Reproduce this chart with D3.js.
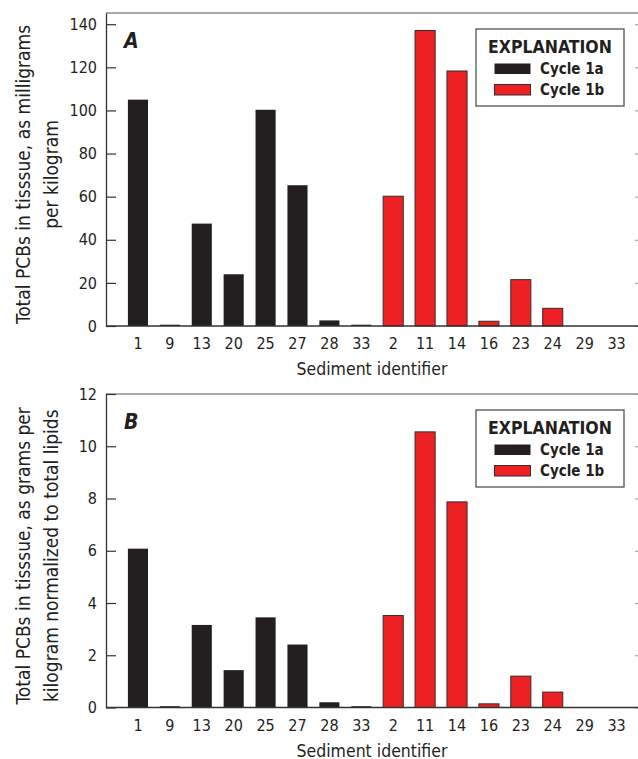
<!DOCTYPE html>
<html>
<head>
<meta charset="utf-8">
<script src="https://cdn.jsdelivr.net/npm/d3@7"></script>
<style>
  body { margin: 0; background: #fff; }
  svg { display: block; }
  text { font-family: "DejaVu Sans Condensed", "DejaVu Sans", sans-serif; font-stretch: condensed; fill: #231f20; }
</style>
</head>
<body>
<div id="container"></div>
<script>
// sediment ids along the x axis (first 8 are cycle 1a, rest cycle 1b)
const sediments = ["1", "9", "13", "20", "25", "27", "28", "33", "2", "11", "14", "16", "23", "24", "29", "33"];
const cycles = ["1a", "1a", "1a", "1a", "1a", "1a", "1a", "1a", "1b", "1b", "1b", "1b", "1b", "1b", "1b", "1b"];

// panel A: mg/kg
const valuesA = [105, 0.6, 47.5, 24, 100.3, 65.3, 2.6, 0.6, 60.2, 137.1, 118.3, 2.2, 21.5, 8.2, 0, 0];
const ticksA = [0, 20, 40, 60, 80, 100, 120, 140];

// panel B: g/kg normalized to lipids
const valuesB = [6.08, 0.05, 3.16, 1.43, 3.45, 2.41, 0.2, 0.05, 3.52, 10.55, 7.87, 0.14, 1.2, 0.59, 0, 0];
const ticksB = [0, 2, 4, 6, 8, 10, 12];

const legendLabels = ["Cycle 1a", "Cycle 1b"];
const colors = { "1a": "#231f20", "1b": "#ed2024" };

const w = 638, h = 759;
const svg = d3.select('#container').append('svg')
  .attr('width', w).attr('height', h);

const drawPanel = (cfg) => {
  const g = svg.append('g');
  const idx = d3.range(sediments.length);

  const x = d3.scaleBand()
    .domain(idx)
    .range([122, 632.5])
    .paddingInner(0.37)
    .paddingOuter(0.185);

  const y = d3.scaleLinear().domain([0, cfg.yMax]).range([cfg.bottom, cfg.top]);

  // frame: top line
  g.append('line')
    .attr('x1', 106).attr('x2', w).attr('y1', cfg.top).attr('y2', cfg.top)
    .attr('stroke', '#555').attr('stroke-width', 1.2);

  // bars
  g.selectAll('.bar').data(idx)
    .enter()
    .append('rect')
    .attr('class', 'bar')
    .attr('x', (i) => x(i))
    .attr('width', x.bandwidth())
    .attr('y', (i) => y(cfg.values[i]))
    .attr('height', (i) => y(0) - y(cfg.values[i]))
    .attr('fill', (i) => colors[cycles[i]])
    .attr('stroke', (i) => cycles[i] === '1b' ? '#3a2a2a' : 'none')
    .attr('stroke-width', 1);

  // left axis, ticks pointing in
  const yAxis = d3.axisLeft(y).tickValues(cfg.ticks).tickSizeInner(-10).tickSizeOuter(0).tickPadding(8);
  const yAxisGroup = g.append('g')
    .attr('class', 'yaxisgroup')
    .attr('transform', 'translate(106,0)')
    .call(yAxis);
  yAxisGroup.select('.domain').attr('stroke', '#333').attr('stroke-width', 1.3);
  yAxisGroup.selectAll('.tick line').attr('stroke', '#333').attr('stroke-width', 1.2);
  yAxisGroup.selectAll('.tick text')
    .attr('x', -9)
    .style('font-size', '16px')
    .attr('font-family', null)
    .attr('fill', '#231f20');

  // right axis (mostly cut off by the window edge)
  const rAxis = d3.axisRight(y).tickValues(cfg.ticks).tickSizeInner(-6).tickSizeOuter(0).tickFormat('');
  const rGroup = g.append('g')
    .attr('transform', 'translate(641,0)')
    .call(rAxis);
  rGroup.selectAll('line, path').attr('stroke', '#999');

  // bottom axis, no tick marks
  const xAxis = d3.axisBottom(x).tickFormat((i) => sediments[i]).tickSize(0).tickPadding(12);
  const xAxisGroup = g.append('g')
    .attr('class', 'xaxisgroup')
    .attr('transform', 'translate(0,' + cfg.bottom + ')')
    .call(xAxis);
  xAxisGroup.select('.domain').attr('d', 'M106,0H' + w).attr('stroke', '#333').attr('stroke-width', 1.3);
  xAxisGroup.selectAll('.tick text')
    .style('font-size', '16px')
    .attr('font-family', null)
    .attr('fill', '#231f20');

  g.append('text')
    .attr('x', 372).attr('y', cfg.bottom + 49)
    .attr('text-anchor', 'middle')
    .style('font-size', '17.5px')
    .text('Sediment identifier');

  // y title (two lines)
  const cy = (cfg.top + cfg.bottom) / 2 + 5;
  cfg.yTitle.forEach((line, k) => {
    g.append('text')
      .attr('transform', 'translate(' + (30 + k * 28) + ',' + cy + ') rotate(-90)')
      .attr('text-anchor', 'middle')
      .style('font-size', '19px')
      .text(line);
  });

  // panel letter
  g.append('text')
    .attr('x', 124).attr('y', cfg.top + 35)
    .style('font-size', '21px')
    .style('font-weight', 'bold')
    .style('font-style', 'italic')
    .text(cfg.letter);

  // legend
  const lg = g.append('g').attr('transform', 'translate(476,' + cfg.legendTop + ')');
  lg.append('rect')
    .attr('width', 148).attr('height', 77)
    .attr('fill', '#fff').attr('stroke', '#444').attr('stroke-width', 1.2);
  lg.append('text')
    .attr('x', 74).attr('y', 24)
    .attr('text-anchor', 'middle')
    .style('font-size', '17.5px')
    .style('font-weight', 'bold')
    .text('EXPLANATION');
  legendLabels.forEach((lab, k) => {
    lg.append('rect')
      .attr('x', 18.5).attr('y', 34.5 + k * 21)
      .attr('width', 36).attr('height', 10.5)
      .attr('fill', colors[k === 0 ? '1a' : '1b'])
      .attr('stroke', k === 0 ? 'none' : '#3a2a2a');
    lg.append('text')
      .attr('x', 64).attr('y', 45 + k * 21)
      .style('font-size', '15px')
      .style('font-weight', 'bold')
      .text(lab);
  });
};

drawPanel({
  values: valuesA, ticks: ticksA, yMax: 145.2, top: 13, bottom: 326,
  letter: 'A', legendTop: 29,
  yTitle: ['Total PCBs in tisssue, as milligrams', 'per kilogram']
});

drawPanel({
  values: valuesB, ticks: ticksB, yMax: 12, top: 394, bottom: 707.5,
  letter: 'B', legendTop: 410,
  yTitle: ['Total PCBs in tisssue, as grams per', 'kilogram normalized to total lipids']
});
</script>
</body>
</html>
